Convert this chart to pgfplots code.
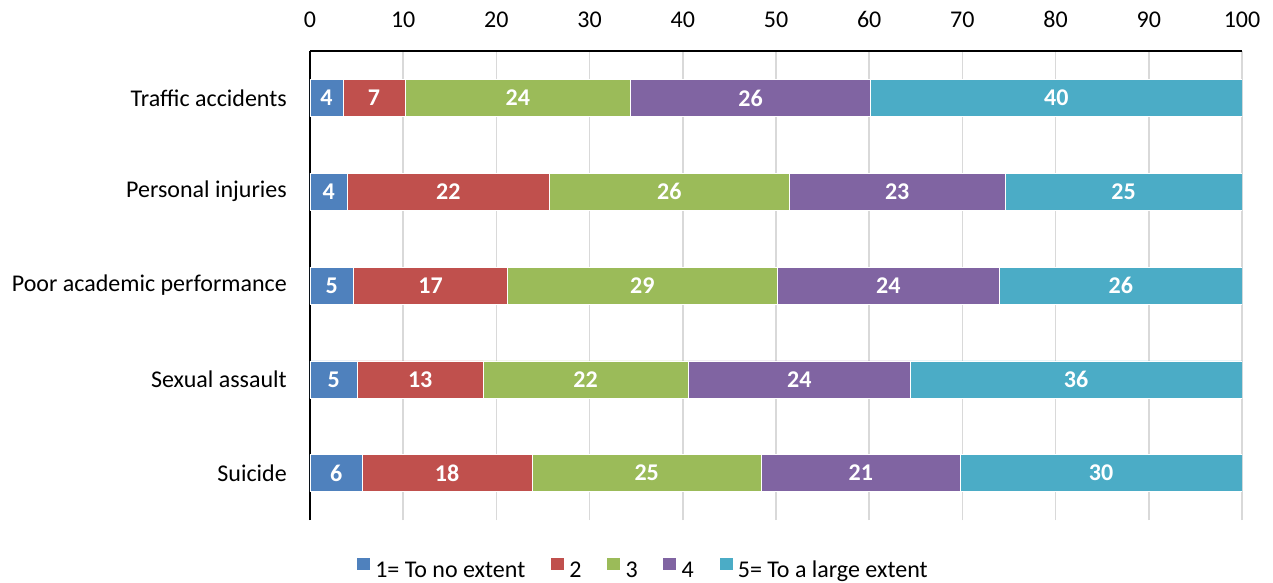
\documentclass[border=0pt]{standalone}
\usepackage{fontspec}
\setmainfont{Carlito}
\usepackage{pgfplots}
\pgfplotsset{compat=1.18}
\usepackage{pgfplotstable}

\definecolor{c1}{HTML}{4F81BD}
\definecolor{c2}{HTML}{C0504D}
\definecolor{c3}{HTML}{9BBB59}
\definecolor{c4}{HTML}{8064A2}
\definecolor{c5}{HTML}{4BACC6}
\definecolor{gridgray}{HTML}{D9D9D9}

% share of answers (%) per rating, one row per consequence (0 = Suicide ... 4 = Traffic accidents)
\pgfplotstableread{
pos  s1    s2    s3    s4    s5
0    5.62  18.18 24.65 21.30 30.25
1    5.10  13.45 22.05 23.80 35.60
2    4.67  16.53 28.90 23.90 26.00
3    4.00  21.70 25.70 23.20 25.40
4    3.55  6.65  24.20 25.75 39.85
}\datatable

\newcommand{\chartfont}{\fontsize{24}{28.8}\selectfont}

\pgfplotsset{
  frame/.style={
    at={(0pt,0pt)}, anchor=south west,
    scale only axis, width=932pt, height=469pt,
    xmin=0, xmax=100, ymin=-0.5, ymax=4.5,
    /pgf/number format/assume math mode=true,
  },
  % white value label in the middle of a segment
  seglabel/.style={
    only marks, mark=none, point meta=explicit,
    nodes near coords={\pgfmathprintnumber[fixed,precision=0,assume math mode=true]{\pgfplotspointmeta}},
    every node near coord/.append style={font=\chartfont\bfseries, text=white, anchor=center},
  },
}

\begin{document}
\begin{tikzpicture}
\useasboundingbox (-310pt,-62pt) rectangle (963pt,520pt);
\begin{axis}[
  frame,
  xbar stacked, bar width=37pt,
  xtick={0,10,...,100},
  ytick={0,1,2,3,4},
  yticklabels={Suicide, Sexual assault, Poor academic performance, Personal injuries, Traffic accidents},
  axis x line*=top, axis y line*=left,
  axis line style={black, line width=1.5pt},
  major tick length=0pt,
  xmajorgrids, major grid style={gridgray, line width=1.5pt},
  every tick label/.append style={font=\chartfont, text=black},
  xticklabel style={anchor=south, inner sep=0pt, yshift=23pt},
  yticklabel style={anchor=east, inner sep=0pt, xshift=-23pt},
  every axis plot/.append style={draw=white, line width=0.6pt},
  legend style={at={(0.3571,-0.1045)}, anchor=center, draw=none, fill=none,
    legend columns=5, font=\chartfont,
    /tikz/every odd column/.append style={column sep=2.7pt},
    /tikz/every even column/.append style={column sep=22.7pt}},
  legend image code/.code={\fill[#1] (0pt,0pt) rectangle (14pt,13.5pt);},
]
\addplot[fill=c1] table[x=s1, y=pos] {\datatable};
\addplot[fill=c2] table[x=s2, y=pos] {\datatable};
\addplot[fill=c3] table[x=s3, y=pos] {\datatable};
\addplot[fill=c4] table[x=s4, y=pos] {\datatable};
\addplot[fill=c5] table[x=s5, y=pos] {\datatable};
\legend{1= To no extent, 2, 3, 4, 5= To a large extent}
\end{axis}
% value labels, each at the centre of its segment
\begin{axis}[frame, hide axis]
\addplot[seglabel] table[x expr=\thisrow{s1}/2, y=pos, meta=s1] {\datatable};
\addplot[seglabel] table[x expr=\thisrow{s1}+\thisrow{s2}/2, y=pos, meta=s2] {\datatable};
\addplot[seglabel] table[x expr=\thisrow{s1}+\thisrow{s2}+\thisrow{s3}/2, y=pos, meta=s3] {\datatable};
\addplot[seglabel] table[x expr=\thisrow{s1}+\thisrow{s2}+\thisrow{s3}+\thisrow{s4}/2, y=pos, meta=s4] {\datatable};
\addplot[seglabel] table[x expr=\thisrow{s1}+\thisrow{s2}+\thisrow{s3}+\thisrow{s4}+\thisrow{s5}/2, y=pos, meta=s5] {\datatable};
\end{axis}
\end{tikzpicture}
\end{document}
